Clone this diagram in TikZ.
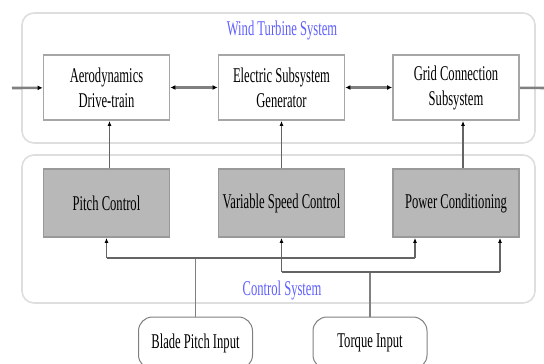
\documentclass[tikz,border=0pt]{standalone}
\usepackage{fontspec}
\setmainfont{Liberation Serif}[FakeStretch=0.6]
\usetikzlibrary{arrows.meta, calc}
\definecolor{sysblue}{RGB}{95, 95, 255}
\definecolor{wiregray}{RGB}{100, 100, 100}

\begin{document}
\begin{tikzpicture}[x=1pt, y=-1pt,
    group/.style={draw=black!13, line width=1.6pt, rounded corners=12pt},
    sysbox/.style={rectangle, draw=black!35, line width=1.8pt, fill=white, minimum width=126pt, minimum height=65pt, align=center, text=black, font=\fontsize{21}{25}\selectfont},
    ctrlbox/.style={sysbox, fill=black!28, draw=black!40, minimum height=68pt},
    inbox/.style={rectangle, rounded corners=14pt, draw=black!50, line width=1pt, fill=white, minimum width=114pt, minimum height=52pt, text=black, font=\fontsize{21}{25}\selectfont},
    title/.style={text=sysblue, font=\fontsize{21}{24}\selectfont},
    flow/.style={draw=black!50, line width=2.6pt, -{Latex[length=5pt, width=5pt, black]}},
    biflow/.style={flow, {Latex[length=5pt, width=5pt, black]}-{Latex[length=5pt, width=5pt, black]}},
    feed/.style={draw=wiregray, line width=1.3pt, -{Latex[length=5pt, width=4pt, black]}},
    bus/.style={draw=wiregray, line width=2.6pt},
    inwire/.style={draw=black!50, line width=1.8pt}
  ]
    \useasboundingbox (0,0) rectangle (544,364);

    % system groups
    \draw[group] (22,13) rectangle (535,143);
    \draw[group] (22,155) rectangle (535,303);
    \node[title] (wts) at (282,30) {Wind Turbine System};
    \node[title] (cs) at (282,290) {Control System};

    \node[sysbox] (aero) at (106.5,87.5) {Aerodynamics\\Drive-train};
    \node[sysbox] (elec) at (281.5,87.5) {Electric Subsystem\\Generator};
    \node[sysbox] (grid) at (456,87.5) {Grid Connection\\Subsystem};

    \node[ctrlbox] (pitch) at (106.5,203) {Pitch Control};
    \node[ctrlbox] (speed) at (281.5,203) {Variable Speed Control};
    \node[ctrlbox] (pcon) at (456,203) {Power Conditioning};

    \node[inbox] (bpi) at (195.5,343) {Blade Pitch Input};
    \node[inbox] (tqi) at (370,343) {Torque Input};

    \coordinate (in) at (12,88);
    \coordinate (out) at (550,88);
    \coordinate (bus1) at (0,258);
    \coordinate (bus2) at (0,272);
    \coordinate (pitchC) at ($(pitch.north)+(3,0)$);
    \coordinate (pconC) at ($(pcon.north)+(7,0)$);
    \coordinate (pconA) at ($(pcon.south)+(-41,0)$);
    \coordinate (pconB) at ($(pcon.south)+(44,0)$);

    \draw[flow] (in) -- (aero);
    \draw[biflow] (aero) -- (elec);
    \draw[biflow] (elec) -- (grid);
    \draw[flow, -] (grid) -- (out);

    \draw[feed] (pitchC) -- (pitchC |- aero.south);
    \draw[feed] (speed) -- (elec);
    \draw[feed] (pconC) -- (pconC |- grid.south);

    % input buses
    \draw[inwire] (bpi) -- (bpi |- bus1);
    \draw[inwire] (tqi) -- (tqi |- bus2);
    \draw[bus] (pitch.south |- bus1) -- (pconA |- bus1);
    \draw[bus] (speed.south |- bus2) -- (pconB |- bus2);
    \draw[feed] (pitch.south |- bus1) -- (pitch.south);
    \draw[feed] (speed.south |- bus2) -- (speed.south);
    \draw[feed] (pconA |- bus1) -- (pconA);
    \draw[feed] (pconB |- bus2) -- (pconB);
  \end{tikzpicture}
\end{document}
